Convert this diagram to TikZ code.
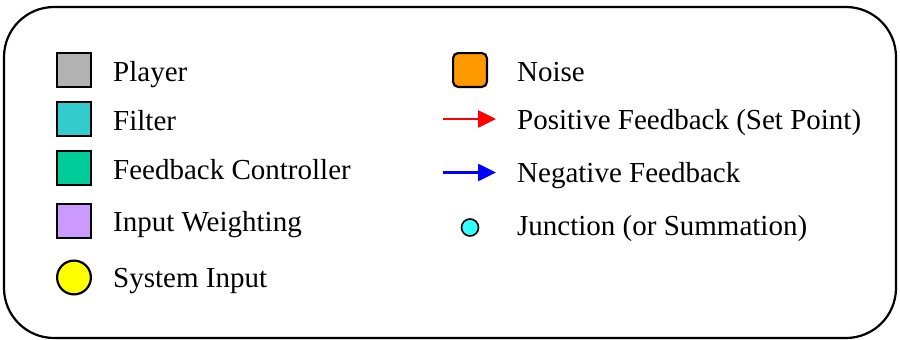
\documentclass[tikz,border=0pt]{standalone}
\usepackage{fontspec}
\setmainfont{Liberation Serif}
\usetikzlibrary{arrows.meta}
\definecolor{playergray}{HTML}{B2B2B2}
\definecolor{filtercyan}{HTML}{33CCCC}
\definecolor{ctrlgreen}{HTML}{00CC99}
\definecolor{weightlilac}{HTML}{CC99FF}
\definecolor{inputyellow}{HTML}{FFFF00}
\definecolor{noiseorange}{HTML}{FF9900}
\definecolor{junctioncyan}{HTML}{33FFFF}
\begin{document}
\begin{tikzpicture}[x=1pt,y=-1pt,
  swatch/.style={draw=black, line width=2.2pt, minimum size=33.8pt, inner sep=0pt},
  lbl/.style={anchor=base west, inner sep=0pt, font=\fontsize{29}{34}\selectfont},
  feedarrow/.style={line width=2.6pt, -{Triangle[length=18pt,width=17pt]}}]
\useasboundingbox (0,0) rectangle (900,340);
% outer frame
\draw[line width=2.2pt, rounded corners=50pt] (4,7) rectangle (896,338);

% left column
\node[swatch, fill=playergray] (sPlayer) at (74,70) {};
\node[lbl] (tPlayer) at (113,81) {Player};
\node[swatch, fill=filtercyan] (sFilter) at (74,119) {};
\node[lbl] (tFilter) at (113,130.5) {Filter};
\node[swatch, fill=ctrlgreen] (sCtrl) at (74,168) {};
\node[lbl] (tCtrl) at (113,179.5) {Feedback Controller};
\node[swatch, fill=weightlilac] (sWeight) at (74,221) {};
\node[lbl] (tWeight) at (113,231) {Input Weighting};
\node[swatch, circle, fill=inputyellow] (sInput) at (74,277.5) {};
\node[lbl] (tInput) at (113,287) {System Input};

% right column
\node[swatch, fill=noiseorange, rounded corners=5pt] (sNoise) at (470,70) {};
\node[lbl] (tNoise) at (517,81) {Noise};
\coordinate (posA) at (443,119);
\coordinate (posB) at (496,119);
\draw[feedarrow, red] (posA) -- (posB);
\node[lbl] (tPos) at (517,129.5) {Positive Feedback (Set Point)};
\coordinate (negA) at (443,172.5);
\coordinate (negB) at (496,172.5);
\draw[feedarrow, blue] (negA) -- (negB);
\node[lbl] (tNeg) at (517,182) {Negative Feedback};
\node[draw=black, line width=1.6pt, circle, fill=junctioncyan, minimum size=17pt, inner sep=0pt] (sJunc) at (470,227.5) {};
\node[lbl] (tJunc) at (517,235) {Junction (or Summation)};
\end{tikzpicture}
\end{document}
